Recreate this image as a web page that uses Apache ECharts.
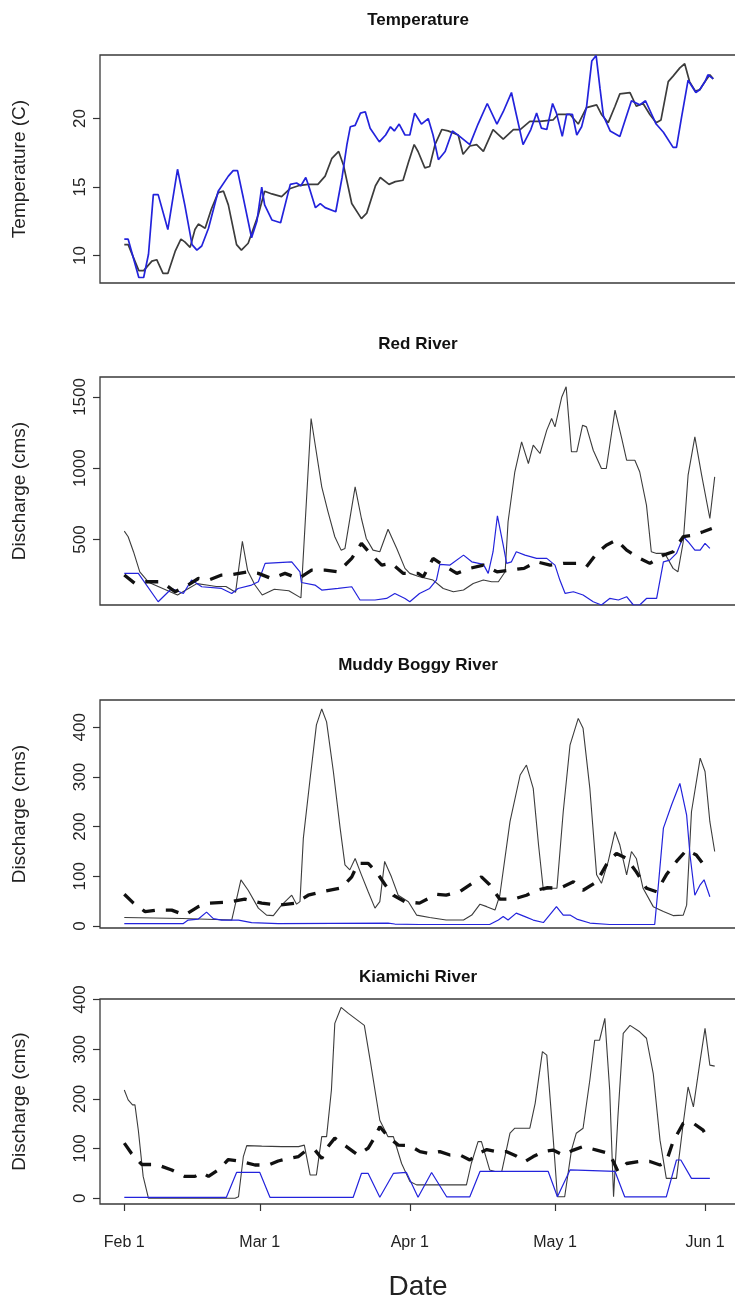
<!DOCTYPE html>
<html><head><meta charset="utf-8">
<script src="https://cdn.jsdelivr.net/npm/echarts@6/dist/echarts.min.js"></script>
<style>html,body{margin:0;padding:0;background:#fff}#c{width:735px;height:1297px}</style>
</head><body><div id="c"></div>
<script>
// ---------- DATA (day = days since Feb 1) ----------
const monthTickDays = [0, 28, 59, 89, 120];
const monthTickLabels = ['Feb 1', 'Mar 1', 'Apr 1', 'May 1', 'Jun 1'];
const panelTitles = ['Temperature', 'Red River', 'Muddy Boggy River', 'Kiamichi River'];
const yAxisTitles = ['Temperature (C)', 'Discharge (cms)', 'Discharge (cms)', 'Discharge (cms)'];
const xAxisTitle = 'Date';
const tempTicks = [10, 15, 20];
const redTicks = [500, 1000, 1500];
const muddyTicks = [0, 100, 200, 300, 400];
const kiamichiTicks = [0, 100, 200, 300, 400];

const tempBlack = [[0,10.8],[0.8,10.8],[3,8.9],[4,8.9],[5.7,9.6],[6.7,9.7],[8,8.7],[9,8.7],[10.5,10.3],[11.7,11.2],[12.5,11.0],[13.6,10.6],[14.6,11.9],[15.3,12.3],[16.7,12.0],[18,13.4],[19.4,14.6],[20.5,14.7],[21.5,13.7],[23.2,10.8],[24.2,10.4],[25.6,10.9],[27.7,13.0],[29,14.7],[30.5,14.5],[32.5,14.3],[34.3,14.9],[36,15.1],[38,15.2],[40,15.2],[41.5,15.8],[42.9,17.1],[44.3,17.6],[45.3,16.6],[47,13.8],[49,12.7],[50.1,13.1],[51.9,15.1],[52.9,15.7],[54.7,15.2],[56,15.4],[57.6,15.5],[58.7,16.8],[59.9,18.1],[60.7,17.6],[62.1,16.4],[63.1,16.5],[64.2,18.1],[65.6,19.2],[66.9,19.1],[69,18.8],[70,17.4],[71.4,18.0],[72.8,18.1],[74.2,17.6],[76.2,19.2],[78.3,18.5],[80.4,19.2],[81.8,19.2],[83.8,19.8],[85.9,19.8],[88.6,19.9],[89.6,20.3],[92.1,20.3],[93.8,19.6],[95.5,20.8],[97.6,21.0],[98.6,20.3],[100,19.7],[101.4,20.9],[102.4,21.8],[104.5,21.9],[105.8,20.9],[107.2,21.1],[108.6,20.3],[109.9,19.7],[110.9,19.9],[112.4,22.7],[113.4,23.1],[114.8,23.7],[115.8,24.0],[116.8,22.7],[118,22.0],[118.9,22.1],[120,22.7],[121,23.2],[121.7,22.9]];
const tempBlue = [[0,11.2],[0.8,11.2],[3,8.4],[4,8.4],[5,10.1],[6,14.45],[7,14.45],[9,11.9],[11,16.3],[12.5,13.7],[14,10.8],[15,10.4],[16,10.7],[17.4,12.0],[19.4,14.7],[21.5,15.8],[22.5,16.2],[23.4,16.2],[24.6,14.2],[26.3,11.3],[27.4,12.5],[28.4,15.0],[29,13.7],[30.5,12.6],[32.3,12.4],[34.3,15.2],[35.6,15.3],[36.5,15.1],[37.5,15.7],[38,15.2],[39.5,13.5],[40.5,13.8],[41.5,13.5],[43.7,13.2],[45,15.7],[46,18.1],[46.7,19.4],[47.7,19.5],[48.8,20.4],[49.8,20.5],[50.8,19.3],[52.7,18.3],[54,18.8],[55,19.4],[55.8,19.1],[56.8,19.6],[58,18.8],[59,18.8],[60,20.4],[61.4,19.6],[62.8,20.0],[63.8,18.8],[64.9,17.0],[66.3,17.6],[67.8,19.1],[69.3,18.7],[71.4,18.1],[73.1,19.6],[75,21.1],[77,19.6],[78.3,20.5],[80,21.9],[81,20.3],[82.4,18.1],[84,19.2],[85.2,20.4],[86.2,19.3],[87.3,19.2],[88.5,21.1],[89.3,20.4],[90.5,18.7],[91.4,20.3],[92.6,20.3],[93.5,18.8],[94.5,19.4],[95.5,20.8],[96.6,24.2],[97.5,24.6],[98.3,22.2],[99,20.2],[100.4,19.1],[102.4,18.7],[103.6,20.0],[104.8,21.3],[106.5,21.0],[107.7,21.3],[109.9,19.6],[111.4,19.0],[113.4,17.9],[114.1,17.9],[115.1,20.0],[116.5,22.8],[118.1,21.9],[118.9,22.1],[120,22.7],[120.6,23.2],[121.7,22.9]];

const redBlack = [[0,558],[0.8,519],[1.9,414],[3.2,273],[5,200],[7,170],[9,140],[11,110],[13,150],[15,190],[17,180],[19,170],[21,170],[23,130],[24.4,486],[25.5,280],[27,180],[28.5,110],[31,150],[34,140],[36.5,90],[38.6,1349],[40.8,869],[42.1,694],[43.5,519],[44.8,425],[45.6,437],[47.7,869],[49,647],[50,507],[51.4,425],[52.8,414],[54.5,572],[56.3,437],[58,297],[59,262],[61,238],[63.8,215],[65.9,156],[68,133],[70.1,145],[72.1,191],[74.2,215],[75.9,203],[77.3,203],[78.7,273],[79.3,624],[80.7,975],[82.1,1185],[83.5,1033],[84.5,1162],[85.9,1103],[87.3,1267],[88.3,1349],[89,1290],[90.4,1500],[91.3,1571],[92.4,1115],[93.5,1115],[94.7,1302],[95.5,1290],[96.9,1126],[98.6,998],[99.6,998],[101.4,1407],[102.8,1208],[103.8,1056],[105.5,1056],[106.5,975],[107.9,741],[108.9,414],[110,402],[111.7,402],[113.4,297],[114.4,273],[115.5,484],[116.5,951],[117.9,1220],[119.3,951],[121,647],[122,939]];
const redBlue = [[0,262],[2.9,262],[7,63],[9.8,156],[12.2,121],[13.9,215],[16,168],[20.1,156],[22.2,121],[23.5,156],[26.3,180],[27.7,203],[29.1,332],[34.6,343],[36.3,273],[36.6,198],[39.4,180],[40.8,145],[44.2,156],[47,168],[48.7,75],[51.8,75],[54.2,86],[55.9,121],[58,86],[59,63],[61,121],[63.1,156],[64.5,215],[65.2,325],[67.3,320],[70.1,390],[71.8,343],[74.2,325],[75.2,262],[76.2,414],[77.1,666],[78.3,460],[79,332],[80,343],[81,414],[82.8,390],[85.2,367],[87.3,367],[89,320],[90,215],[91.1,121],[92.8,133],[94.8,110],[96.9,63],[98.6,40],[100.3,86],[102.1,75],[103.8,98],[105.2,40],[106.5,40],[107.9,86],[110,86],[111.4,343],[112.7,355],[114.1,402],[115.5,519],[116.5,484],[117.9,425],[119,425],[120,472],[121,437]];
const redDashed = [[0,250],[2.2,191],[4.3,203],[7.7,203],[10.5,133],[13.2,180],[15.3,226],[17.4,215],[20.1,250],[22.5,255],[25.6,273],[27.7,262],[30.4,226],[33.2,262],[36,226],[38.7,285],[41.5,285],[44.2,273],[47,367],[49,472],[50.8,402],[53.2,320],[55.2,332],[57.6,262],[60.7,262],[61.8,238],[63.8,367],[65.9,320],[68.7,262],[71.4,297],[74.2,320],[77,273],[79.8,285],[82.6,297],[85.2,343],[88,320],[90.7,332],[93.5,332],[95.5,308],[97.6,402],[99.6,460],[101.7,495],[103.8,425],[106.5,367],[108.6,332],[111.4,390],[113.4,414],[115.5,519],[117.5,530],[119.6,554],[121.4,577]];

const muddyBlack = [[0,17],[12,15],[22.2,12],[24.1,93],[25.6,72],[27.7,36],[29.4,22],[30.8,21],[32.5,42],[34.6,62],[35.6,44],[36.3,49],[37,177],[38.4,297],[39.7,405],[40.8,437],[41.8,411],[43.2,311],[44.6,197],[45.6,123],[46.6,113],[47.7,136],[49,103],[50.4,69],[51.8,36],[52.8,49],[53.8,130],[55.2,99],[56.6,62],[58.7,49],[60.4,22],[63.1,17],[66.5,12],[70.1,12],[71.8,22],[73.5,44],[74.9,39],[76.6,32],[77.6,62],[79.7,210],[81.8,304],[83.1,324],[84.5,277],[85.6,163],[86.6,72],[88,76],[89.4,76],[90.7,230],[92.1,364],[93.8,418],[94.8,398],[96.2,277],[97.6,103],[98.6,86],[100,130],[101.4,190],[102.4,163],[103.8,103],[104.8,150],[105.8,136],[107.2,76],[109.3,39],[111.4,29],[113.4,21],[115.5,22],[116.2,42],[117.2,230],[119,338],[120,311],[121,210],[122,150]];
const muddyBlue = [[0,5],[12.2,5],[13.2,12],[15.3,14],[17,28],[18.4,15],[20.1,12],[23.6,12],[26.3,7],[31.8,5],[54.5,6],[55.9,4],[61,3],[75.5,3],[77.3,12],[78.3,19],[79.3,12],[81,26],[82.8,19],[84.5,12],[86.6,7],[89.3,39],[90.7,22],[92.1,22],[93.5,14],[96.2,6],[100.3,3],[109.6,3],[110.3,76],[111.4,197],[113.1,244],[114.8,287],[116.2,223],[116.9,143],[117.9,62],[119,83],[119.8,93],[121,59]];
const muddyDashed = [[0,64],[1.9,46],[4.3,29],[6.7,32],[9.8,32],[12.5,22],[15.3,39],[17.7,46],[21.5,48],[24.9,54],[28.4,46],[31.8,42],[35.3,46],[38,62],[40.8,69],[44.9,77],[47,99],[48.3,126],[50.4,126],[52.1,109],[53.9,83],[55.6,62],[58,49],[61,46],[64.5,64],[66.5,62],[69.3,69],[71.4,83],[73.8,99],[75.5,83],[77.6,54],[80.4,54],[83.1,62],[85.2,72],[87.3,77],[90,76],[92.8,89],[94.8,72],[97.6,89],[100,130],[101.7,146],[103.8,136],[105.8,109],[107.9,76],[110,69],[112,103],[114.1,130],[116.2,153],[118.2,143],[120.3,116]];

const kiaBlack = [[0,218],[0.8,198],[1.7,188],[2.2,188],[2.9,137],[3.9,44],[5,0],[22.9,0],[23.6,3],[24.6,84],[25.3,106],[28.4,105],[32.5,104],[36,104],[37.2,107],[38.4,47],[39.7,47],[40.8,124],[41.8,124],[42.8,218],[43.5,352],[44.8,384],[46.3,372],[49.6,348],[50.8,278],[52.8,157],[54.5,124],[55.6,124],[57.3,70],[59,34],[60.4,27],[70.7,27],[71.7,70],[73.1,114],[73.8,114],[75.5,57],[76.6,54],[78,54],[79.7,131],[80.7,141],[83.8,141],[84.9,191],[86.4,295],[87.3,288],[88.6,124],[89.5,3],[91,3],[92.4,97],[93.4,131],[94.8,141],[96.2,238],[97.2,318],[98.2,318],[99.3,362],[100.3,218],[101.1,3],[102,164],[103.1,332],[104.5,348],[106.5,335],[107.9,322],[109.3,251],[110.7,117],[112,40],[114.1,40],[115.5,151],[116.5,224],[117.6,184],[118.9,271],[120,342],[121,268],[122,266]];
const kiaBlue = [[0,2],[21.1,2],[23.2,52],[28,52],[30.1,2],[47.3,2],[49,50],[50.4,50],[52.8,2],[55.6,50],[58.3,52],[60.7,2],[63.5,52],[66.6,3],[71.4,3],[73.5,54],[87.6,54],[89.5,3],[92.1,57],[101.4,54],[103.4,3],[112,3],[114.1,77],[115,77],[117.2,40],[121,40]];
const kiaDashed = [[0,111],[1.5,90],[3.6,68],[6.7,68],[9.8,57],[12.5,44],[14.6,44],[16,52],[17.4,44],[19.4,57],[21.5,78],[24.2,74],[27,67],[29.8,67],[31.8,75],[33.9,80],[36,84],[37.3,94],[39.4,97],[40.8,80],[42.1,104],[43.5,121],[45.9,104],[48.3,87],[50.4,101],[51.4,117],[52.8,144],[54.5,124],[56.6,107],[59,106],[61.1,94],[63.1,90],[65.2,94],[67.3,87],[69.4,87],[71.4,77],[73.1,90],[74.9,98],[76.9,94],[78.9,94],[81,85],[82.8,74],[84.5,84],[86.6,94],[88.6,97],[90.7,87],[92.8,97],[94.8,104],[97.6,97],[100.3,90],[102,54],[103.8,70],[106.5,74],[108.6,74],[110.7,67],[112,74],[113.4,114],[115.5,151],[117.6,151],[119.6,137],[121,114]];

// ---------- LAYOUT ----------
const FONT = "'Liberation Sans', Arial, Helvetica, sans-serif";
const panels = [
  {top: 55, height: 228, min: 8.0, max: 24.64, ticks: tempTicks, series: [[tempBlack,'black'],[tempBlue,'blue']], temp: true, titleY: 12},
  {top: 377, height: 228, min: 40, max: 1640, ticks: redTicks, series: [[redBlack,'black'],[redBlue,'blue'],[redDashed,'dash']], titleY: 336},
  {top: 700, height: 228, min: -4, max: 455, ticks: muddyTicks, series: [[muddyBlack,'black'],[muddyBlue,'blue'],[muddyDashed,'dash']], titleY: 657},
  {top: 999, height: 205, min: -11.5, max: 401, ticks: kiamichiTicks, series: [[kiaBlack,'black'],[kiaBlue,'blue'],[kiaDashed,'dash']], titleY: 969}
];
const X_MIN = -5.02, X_MAX = 126.4;
const GRID_LEFT = 100, GRID_WIDTH = 636;

const grids = [], xAxes = [], yAxes = [], series = [], titles = [];
panels.forEach((p, i) => {
  const last = i === panels.length - 1;
  grids.push({left: GRID_LEFT, top: p.top, width: GRID_WIDTH, height: p.height, show: true,
    outerBoundsMode: 'none', containLabel: false,
    borderColor: '#3a3a3a', borderWidth: 1.3, backgroundColor: 'transparent'});
  xAxes.push({type: 'value', gridIndex: i, min: X_MIN, max: X_MAX, position: 'bottom',
    axisLine: {show: false, onZero: false}, splitLine: {show: false},
    axisTick: {show: last, customValues: monthTickDays, length: 7, lineStyle: {color: '#333', width: 1.2}},
    axisLabel: {show: last, customValues: monthTickDays, margin: 31,
      formatter: v => monthTickLabels[monthTickDays.indexOf(v)] || '',
      fontFamily: FONT, fontSize: 16, color: '#222'},
    name: last ? xAxisTitle : '', nameLocation: 'middle', nameGap: 69,
    nameTextStyle: {fontFamily: FONT, fontSize: 28, color: '#222'}});
  yAxes.push({type: 'value', gridIndex: i, min: p.min, max: p.max, position: 'left',
    axisLine: {show: false, onZero: false}, splitLine: {show: false},
    axisTick: {show: true, customValues: p.ticks, length: 7, lineStyle: {color: '#333', width: 1.2}},
    axisLabel: {customValues: p.ticks, rotate: 90, margin: 11, formatter: v => String(v),
      fontFamily: FONT, fontSize: 17, color: '#222'},
    name: yAxisTitles[i], nameLocation: 'middle', nameRotate: 90, nameGap: 71,
    nameTextStyle: {fontFamily: FONT, fontSize: 19, color: '#222'}});
  titles.push({text: panelTitles[i], left: 418, top: p.titleY, textAlign: 'center', padding: 0,
    textStyle: {fontFamily: FONT, fontWeight: 'bold', fontSize: 17, color: '#111'}});
  p.series.forEach(([data, kind]) => {
    let ls;
    if (kind === 'black') ls = {color: '#3c3c3c', width: p.temp ? 1.7 : 1.1};
    else if (kind === 'blue') ls = {color: '#2323dc', width: p.temp ? 1.7 : 1.2};
    else ls = {color: '#111', width: 3.3, type: [13, 11], cap: 'butt'};
    series.push({type: 'line', xAxisIndex: i, yAxisIndex: i, data: data, showSymbol: false,
      symbol: 'none', lineStyle: ls, clip: true, silent: true, z: kind === 'dash' ? 4 : (kind === 'blue' ? 3 : 2)});
  });
});

const chart = echarts.init(document.getElementById('c'), null, {renderer: 'canvas'});
chart.setOption({animation: false, backgroundColor: '#fff', title: titles,
  grid: grids, xAxis: xAxes, yAxis: yAxes, series: series});
</script></body></html>
